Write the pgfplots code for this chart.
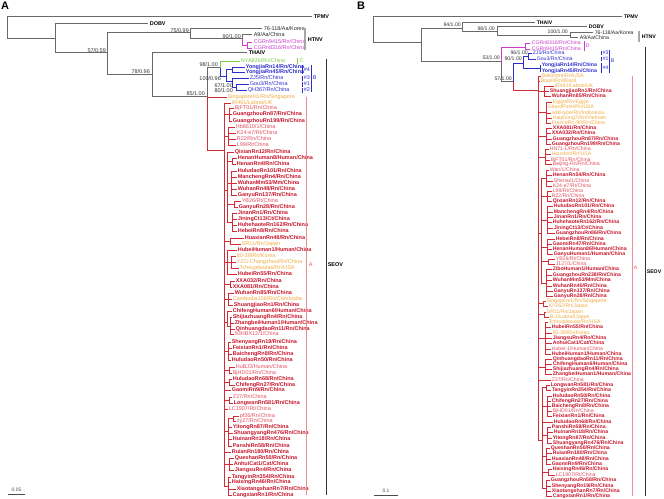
\documentclass[border=0pt]{standalone}
\usepackage{pgfplots}
\pgfplotsset{compat=1.18}
\usepackage{fontspec}
\setmainfont{Liberation Sans}

\definecolor{treeg}{RGB}{105,105,105}
\definecolor{rd}{RGB}{200,20,40}
\definecolor{rl}{RGB}{228,80,95}
\definecolor{redline}{RGB}{210,45,55}
\definecolor{orn}{RGB}{242,170,65}
\definecolor{mgn}{RGB}{205,60,205}
\definecolor{blu}{RGB}{45,45,205}
\definecolor{grn}{RGB}{125,205,70}
\definecolor{pnk}{RGB}{238,140,150}

\newcommand\fs{\fontsize{5.5}{6}\selectfont}
\tikzset{
  nm/.style={anchor=west,inner sep=0pt,outer sep=0pt,xshift=0.8bp,text=rl,font=\fs},
  bd/.style={nm,text=rd,font=\fs\bfseries},
  og/.style={nm,text=orn},
  kk/.style={nm,text=black!85},
  kb/.style={nm,text=black,font=\fs\bfseries},
  mg/.style={nm,text=mgn},
  bn/.style={nm,text=blu},
  bb/.style={nm,text=blu,font=\fs\bfseries},
  gn/.style={nm,text=grn},
  bs/.style={anchor=east,inner sep=0pt,text=black!80,font=\fs},
}
\pgfplotsset{
  tg/.style={draw=treeg,line width=1bp},
  rt/.style={draw=redline,line width=0.6bp},
  mgl/.style={draw=mgn,line width=0.8bp},
  bll/.style={draw=blu,line width=0.8bp},
  grl/.style={draw=grn,line width=0.8bp},
  pkl/.style={draw=pnk,line width=0.7bp},
  kl/.style={draw=black!80,line width=0.6bp},
  hl/.style={draw=gray!70,line width=1.6bp},
  panel/.style={width=332bp,height=499bp,scale only axis,anchor=south west,
    ymin=0,ymax=499,y dir=reverse,hide axis,clip=false,enlargelimits=false},
}

% elbow branch: parent (x,y) -> child (x,y)
\newcommand\E[5][tg]{\addplot[#1] coordinates {(#2,#3) (#2,#5) (#4,#5)};}
% red leaf branch with its label
\newcommand\lf[6][bd]{\addplot[rt] coordinates {(#2,#3) (#2,#5) (#4,#5)};
  \node[#1] at (axis cs:#4,#5) {#6};}
\newcommand\N[4][kk]{\node[#1] at (axis cs:#2,#3) {#4};}
\newcommand\V[4][kl]{\addplot[#1] coordinates {(#2,#3) (#2,#4)};}

\begin{document}
\begin{tikzpicture}

% ---------------- panel A ----------------
\begin{axis}[panel, at={(0,0)}, xmin=0, xmax=332]
\node[anchor=west,inner sep=0pt,font=\fontsize{11}{12}\selectfont\bfseries] at (axis cs:1,6) {A};

\E{7}{39}{312}{17}
\E{7}{39}{55}{39}
\E{55}{39}{148}{24}
\E{55}{39}{107}{53}
\E{107}{53}{190}{33}
\E{107}{53}{152}{75}
\E{190}{33}{262}{29}
\E{190}{33}{242}{39}
\E{242}{39}{252}{35}
\E[mgl]{242}{39}{247}{45}
\E[mgl]{247}{45}{252}{42}
\E[mgl]{247}{45}{252}{48}
\E{152}{75}{247}{53}
\E{152}{75}{207}{97}
\E{207}{97}{220}{68}
\E[grl]{220}{68}{240}{61}
\E[bll]{220}{68}{226}{76}
\E[bll]{226}{76}{232}{69}
\E[bll]{232}{69}{245}{67}
\E[bll]{232}{69}{245}{72}
\E[bll]{226}{76}{232}{81}
\E[bll]{232}{81}{249}{78}
\E[bll]{232}{81}{236}{87}
\E[bll]{236}{87}{249}{84}
\E[bll]{236}{87}{247}{90}

\N[kb]{313}{17}{TPMV}
\N[kb]{149}{24}{DOBV}
\N{263}{29}{76-118/Aa/Korea}
\N{253}{35}{A9/Aa/China}
\N[mg]{253}{42}{CGRn9415/Rn/China}
\N[mg]{253}{48}{CGRn8316/Rn/China}
\N[kb]{248}{53}{THAIV}
\N[gn]{240}{61}{NYA836/Rn/China}
\N[bb]{245}{67}{YongjiaRn14/Rn/China}
\N[bb]{245}{72}{YongjiaRn45/Rn/China}
\N[bn]{249}{78}{ZJ5/Rn/China}
\N[bn]{249}{84}{Gou3/Rn/China}
\N[bn]{247}{90}{QH367/Rn/China}

\N[bs]{189}{31}{75/0.99}
\N[bs]{241}{37}{90/1.00}
\N[bs]{106}{51}{57/0.59}
\N[bs]{150}{72}{78/0.96}
\N[bs]{205}{94}{85/1.00}
\N[bs]{218}{65}{98/1.00}
\N[bs]{221}{79}{100/0.96}
\N[bs]{233}{86}{67/1.00}
\N[bs]{233}{91}{80/1.00}

% SEOV, panel A
\E[rt]{207}{97}{224}{150}
\lf[og]{207}{97}{227}{97}{SingaporeH1/Rn/Singapore}
\lf[og]{224}{150}{231}{103}{IR461/Labrat/UK}
\E[rt]{224}{150}{229}{114}
\lf[nm]{229}{114}{234}{108}{BjFT01/Rn/China}
\lf{229}{114}{232}{114}{GuangzhouRn87/Rn/China}
\lf{229}{114}{232}{121}{GuangzhouRn199/Rn/China}
\E[rt]{224}{150}{228}{136}
\lf[nm]{228}{136}{235}{127}{Hb8610/1/China}
\lf[nm]{228}{136}{236}{133}{K24-e7/Rt/China}
\lf[nm]{228}{136}{236}{139}{R22/Rn/China}
\lf[nm]{228}{136}{236}{145}{L99/Rt/China}
\E[rt]{224}{150}{227}{190}
\lf{227}{190}{234}{152}{QixianRn12/Rn/China}
\E[rt]{227}{190}{232}{161}
\lf{232}{161}{237}{158}{HenanHuman8/Human/China}
\lf{232}{161}{236}{164}{HenanRn4/Rn/China}
\E[rt]{227}{190}{231}{183}
\lf{231}{183}{237}{171}{HuludaoRn101/Rn/China}
\lf{231}{183}{237}{177}{ManchengRn4/Rn/China}
\lf{231}{183}{237}{183}{WuhanMm53/Mm/China}
\lf{231}{183}{237}{189}{WuhanRn48/Rn/China}
\lf{231}{183}{237}{195}{GanyuRn137/Rn/China}
\E[rt]{227}{190}{234}{204}
\lf[nm]{234}{204}{241}{201}{YB26/Rt/China}
\lf{234}{204}{238}{207}{GanyuRn28/Rn/China}
\E[rt]{227}{190}{232}{222}
\lf{232}{222}{237}{213}{JinanRn1/Rn/China}
\lf{232}{222}{237}{219}{JiningCt13/Ct/China}
\lf{232}{222}{237}{225}{HuhehaoteRn162/Rn/China}
\lf{232}{222}{237}{231}{HebeiRn8/Rn/China}
\E[rt]{224}{150}{230}{241}
\lf{230}{241}{244}{238}{HuaxianRn48/Rn/China}
\lf[og]{230}{241}{241}{244}{SR11/Rn/Japan}
\E[rt]{224}{150}{227}{262}
\lf{227}{262}{237}{250}{HubeiHuman1/Human/China}
\E[rt]{227}{262}{231}{262}
\lf[og]{231}{262}{236}{256}{80-39/Rn/Korea}
\lf[og]{231}{262}{236}{262}{YZG-Changzhou/Rn/China}
\lf[og]{231}{262}{239}{268}{Tchoupitoulas/Rn/USA}
\lf{227}{262}{237}{274}{HubeiRn55/Rn/China}
\E[rt]{224}{150}{230}{284}
\lf{230}{284}{235}{281}{XXA032/Rn/China}
\lf{230}{284}{232}{287}{XXA081/Rn/China}
\E[rt]{224}{150}{228}{299}
\lf{228}{299}{234}{293}{WuhanRn85/Rn/China}
\lf[og]{228}{299}{232}{299}{Cambodia156/Rn/Cambodia}
\lf{228}{299}{233}{305}{ShuangjiaoRn1/Rn/China}
\E[rt]{224}{150}{227}{322}
\lf{227}{322}{232}{311}{ChifengHuman6/Human/China}
\E[rt]{227}{322}{230}{326}
\lf{230}{326}{232}{317}{ShijiazhuangRn4/Rn/China}
\lf{230}{326}{234}{323}{ZhangbeiHuman1/Human/China}
\lf{230}{326}{235}{329}{QinhuangdaoRn11/Rn/China}
\lf[nm]{230}{326}{234}{334}{93HBX12/1/China}
\E[rt]{224}{150}{228}{351}
\lf{228}{351}{231}{342}{ShenyangRn19/Rn/China}
\lf{228}{351}{232}{348}{FeixianRn1/Rn/China}
\lf{228}{351}{232}{354}{BaichengRn8/Rn/China}
\lf{228}{351}{231}{360}{HuludaoRn50/Rn/China}
\E[rt]{224}{150}{229}{370}
\lf[nm]{229}{370}{235}{367}{HuBJ3/Human/China}
\lf[nm]{229}{370}{232}{373}{BjHD01/Rn/China}
\E[rt]{224}{150}{229}{382}
\lf{229}{382}{232}{379}{HuludaoRn68/Rn/China}
\lf{229}{382}{235}{385}{ChifengRn27/Rn/China}
\lf{224}{150}{231}{390}{GaomiRn9/Rn/China}
\E[rt]{224}{150}{229}{400}
\lf[nm]{229}{400}{232}{397}{Z37/Rn/China}
\lf{229}{400}{233}{403}{LongwanRn581/Rn/China}
\lf[nm]{224}{150}{228}{409}{LC1907/Rt/China}
\E[rt]{224}{150}{228}{431}
\E[rt]{228}{431}{233}{418}
\lf[nm]{233}{418}{239}{416}{pf26/Rn/China}
\lf[nm]{233}{418}{236}{421}{zy27/Rn/China}
\lf{228}{431}{232}{427}{YitongRn87/Rn/China}
\lf{228}{431}{233}{433}{ShuangyangRn476/Rn/China}
\lf{228}{431}{232}{439}{HuinanRn18/Rn/China}
\lf{228}{431}{232}{446}{PanshiRn58/Rn/China}
\lf{224}{150}{231}{452}{RuianRn180/Rn/China}
\E[rt]{224}{150}{229}{464}
\lf{229}{464}{234}{458}{QueshanRn50/Rn/China}
\lf{229}{464}{233}{464}{AnhuiCat1/Cat/China}
\lf{229}{464}{234}{470}{JiangsuRn4/Rn/China}
\E[rt]{224}{150}{228}{486}
\lf{228}{486}{231}{477}{TangyinRn354/Rn/China}
\lf{228}{486}{231}{482}{HaixingRn46/Rn/China}
\lf{228}{486}{236}{489}{XiaotangshanRn7/Rn/China}
\lf{228}{486}{232}{495}{CangxianRn1/Rn/China}

% clade bars, panel A
\V[hl]{305}{28}{50}
\N[kb]{307}{40}{HTNV}
\V[grl]{297}{58}{64}
\N[gn]{299}{61}{C}
\V[bll]{302}{65}{74}
\V[bll]{302}{76}{81}
\V[bll]{302}{82}{87}
\V[bll]{302}{88}{93}
\N[bn]{303}{70}{\#4}
\N[bn]{303}{78}{\#3}
\N[bn]{303}{84}{\#1}
\N[bn]{303}{90}{\#2}
\V[bll]{311}{65}{92}
\N[bn]{312}{78}{B}
\V[pkl]{306}{97}{495}
\N[nm]{308}{265}{A}
\V[kl]{326}{59}{495}
\N[kb]{327}{265}{SEOV}

\addplot[draw=black!70,line width=0.8bp] coordinates {(8,494) (25,494)};
\node[inner sep=0pt,font=\fontsize{5}{6}\selectfont,text=black!70] at (axis cs:16.5,490) {0.05};
\end{axis}

% ---------------- panel B ----------------
\begingroup
\renewcommand\fs{\fontsize{5.2}{6}\selectfont}
\begin{axis}[panel, at={(332bp,0)}, xmin=332, xmax=664]
\node[anchor=west,inner sep=0pt,font=\fontsize{11}{12}\selectfont\bfseries] at (axis cs:357,6) {B};

\E{373}{43}{622}{17}
\E{373}{43}{421}{43}
\E{421}{43}{462}{29}
\E{421}{43}{501}{62}
\E{462}{29}{535}{23}
\E{462}{29}{497}{32}
\E{497}{32}{587}{27}
\E{497}{32}{570}{36}
\E{570}{36}{593}{33}
\E{570}{36}{578}{38}
\E[mgl]{501}{62}{525}{47}
\E[mgl]{525}{47}{530}{43}
\E[mgl]{525}{47}{530}{49}
\E{501}{62}{513}{82}
\E[bll]{513}{82}{523}{63}
\E[bll]{523}{63}{528}{56}
\E[bll]{528}{56}{532}{53}
\E[bll]{528}{56}{536}{59}
\E[bll]{523}{63}{540}{68}
\E[bll]{540}{68}{541}{65}
\E[bll]{540}{68}{541}{71}

\N[kb]{623}{17}{TPMV}
\N[kb]{536}{23}{THAIV}
\N[kb]{588}{27}{DOBV}
\N{594}{33}{76-118/Aa/Korea}
\N{579}{38}{A9/Aa/China}
\N[mg]{531}{43}{CGRn8316/Rn/China}
\N[mg]{531}{49}{CGRn9415/Rn/China}
\N[bn]{532}{53}{ZJ5/Rn/China}
\N[bn]{536}{59}{Gou3/Rn/China}
\N[bb]{541}{65}{YongjiaRn14/Rn/China}
\N[bb]{541}{71}{YongjiaRn45/Rn/China}

\N[bs]{461}{25}{94/1.00}
\N[bs]{495}{29}{98/1.00}
\N[bs]{568}{32}{100/1.00}
\N[bs]{500}{58}{53/1.00}
\N[bs]{512}{79}{57/1.00}
\N[bs]{522}{59}{90/1.00}
\N[bs]{528}{53}{96/1.00}

% SEOV, panel B
\E[rt]{513}{82}{538}{90}
\lf[og]{538}{90}{541}{76}{Baltimore/Rn/USA}
\lf[og]{538}{90}{540}{81}{Brazil/Rn/Brazil}
\E[rt]{538}{90}{544}{91}
\lf[og]{544}{91}{554}{86}{IR461/Labrat/UK}
\lf{544}{91}{549}{91}{ShuangjiaoRn1/Rn/China}
\lf{544}{91}{551}{96}{WuhanRn85/Rn/China}
\E[rt]{538}{90}{546}{112}
\lf[og]{546}{112}{552}{102}{Egypt/Rn/Egypt}
\lf[og]{546}{112}{547}{107}{GirardPoint/Rn/USA}
\lf[og]{546}{112}{551}{113}{wild-type/Rn/Indonesia}
\lf[og]{546}{112}{552}{118}{Haiphong7/Rn/Vietnam}
\lf[og]{546}{112}{551}{123}{FranceRn-90/Rn/China}
\E[rt]{538}{90}{546}{136}
\lf{546}{136}{552}{128}{XXA081/Rn/China}
\lf{546}{136}{551}{133}{XXA032/Rn/China}
\lf{546}{136}{552}{139}{GuangzhouRn87/Rn/China}
\lf{546}{136}{551}{144}{GuangzhouRn199/Rn/China}
\E[rt]{538}{90}{545}{157}
\lf[nm]{545}{157}{549}{149}{HN71-L/Rn/China}
\lf[og]{545}{157}{551}{154}{Houston/Rn/USA}
\lf[nm]{545}{157}{550}{160}{BjFT01/Rn/China}
\lf[nm]{545}{157}{552}{164}{Beijing-Rn/Rn/China}
\E[rt]{538}{90}{541}{233}
\E[rt]{541}{233}{546}{178}
\lf[nm]{546}{178}{549}{170}{Wan/1/China}
\lf{546}{178}{552}{175}{HenanRn54/Rn/China}
\lf[nm]{546}{178}{553}{181}{Shenai/1/China}
\lf[nm]{546}{178}{552}{186}{K24-e7/Rt/China}
\E[rt]{541}{233}{547}{196}
\lf[nm]{547}{196}{552}{191}{L99/Rt/China}
\lf[nm]{547}{196}{551}{196}{R22/Rn/China}
\lf{547}{196}{552}{201}{QixianRn12/Rn/China}
\E[rt]{541}{233}{547}{220}
\lf{547}{220}{553}{206}{HuludaoRn101/Rn/China}
\lf{547}{220}{553}{212}{ManchengRn4/Rn/China}
\lf{547}{220}{553}{217}{JinanRn1/Rn/China}
\lf{547}{220}{552}{222}{HuhehaoteRn162/Rn/China}
\lf{547}{220}{553}{228}{JiningCt13/Ct/China}
\lf{547}{220}{555}{233}{GuangzhouRn86/Rn/China}
\E[rt]{541}{233}{547}{247}
\lf{547}{247}{555}{239}{HebeiRn8/Rn/China}
\lf{547}{247}{552}{244}{GaomiRn47/Rn/China}
\lf{547}{247}{552}{249}{HenanHuman86/Human/China}
\lf{547}{247}{553}{254}{GanyuHuman1/Human/China}
\E[rt]{541}{233}{548}{261}
\lf[nm]{548}{261}{555}{259}{YB26/Rt/China}
\lf[nm]{548}{261}{555}{264}{J127/1/China}
\E[rt]{541}{233}{546}{283}
\lf{546}{283}{552}{269}{ZiboHuman1/Human/China}
\lf{546}{283}{552}{275}{GuangzhouRn238/Rn/China}
\lf{546}{283}{552}{280}{WuhanMm53/Mm/China}
\lf{546}{283}{552}{286}{WuhanRn40/Rn/China}
\lf{546}{283}{553}{291}{GanyuRn137/Rn/China}
\lf{546}{283}{553}{296}{GanyuRn28/Rn/China}
\E[rt]{538}{90}{543}{303}
\lf[og]{543}{303}{546}{301}{Singapore1/Rn/Singapore}
\lf[og]{543}{303}{548}{306}{KI-262/Rn/Japan}
\E[rt]{538}{90}{544}{314}
\lf[og]{544}{314}{546}{312}{SR11/Rn/Japan}
\lf[og]{544}{314}{549}{317}{B-1/Labrat/Japan}
\E[rt]{538}{90}{545}{338}
\lf[og]{545}{338}{548}{322}{Tchoupitoulas/Rn/USA}
\lf{545}{338}{551}{327}{HubeiRn55/Rn/China}
\lf[og]{545}{338}{552}{333}{80-39/Rn/Korea}
\lf{545}{338}{552}{338}{JiangsuRn4/Rn/China}
\lf{545}{338}{552}{343}{AnhuiCat1/Cat/China}
\lf[nm]{545}{338}{551}{349}{Hubei-1/Human/China}
\lf{545}{338}{551}{354}{HubeiHuman1/Human/China}
\E[rt]{538}{90}{545}{367}
\lf{545}{367}{552}{359}{QinhuangdaoRn11/Rn/China}
\lf{545}{367}{552}{364}{ChifengHuman6/Human/China}
\lf{545}{367}{552}{369}{ShijiazhuangRn4/Rn/China}
\lf{545}{367}{552}{374}{ZhangbeiHuman1/Human/China}
\lf[nm]{538}{90}{551}{380}{Z37/Rn/China}
\E[rt]{538}{90}{542}{440}
\E[rt]{542}{440}{546}{387}
\lf{546}{387}{550}{385}{LongwanRn581/Rn/China}
\lf{546}{387}{551}{390}{TangyinRn354/Rn/China}
\E[rt]{542}{440}{547}{406}
\lf{547}{406}{552}{396}{HuludaoRn50/Rn/China}
\lf{547}{406}{551}{401}{ChifengRn27/Rn/China}
\lf{547}{406}{551}{406}{BaichengRn8/Rn/China}
\lf[nm]{547}{406}{552}{411}{BjHD01/Rn/China}
\lf{547}{406}{552}{416}{FeixianRn1/Rn/China}
\lf{542}{440}{553}{422}{HuludaoRn68/Rn/China}
\E[rt]{542}{440}{547}{435}
\lf{547}{435}{551}{427}{PanshiRn58/Rn/China}
\lf{547}{435}{553}{432}{HuinanRn18/Rn/China}
\lf{547}{435}{552}{438}{YitongRn87/Rn/China}
\lf{547}{435}{552}{443}{ShuangyangRn476/Rn/China}
\E[rt]{542}{440}{546}{456}
\lf{546}{456}{550}{448}{QueshanRn50/Rn/China}
\lf{546}{456}{552}{453}{RuianRn180/Rn/China}
\lf{546}{456}{551}{459}{HuaxianRn48/Rn/China}
\lf{546}{456}{551}{464}{GaomiRn9/Rn/China}
\E[rt]{542}{440}{548}{472}
\lf{548}{472}{552}{469}{HaixingRn46/Rn/China}
\lf[nm]{548}{472}{555}{475}{LC1907/Rt/China}
\E[rt]{542}{440}{546}{488}
\lf{546}{488}{550}{480}{GuangzhouRn58/Rn/China}
\lf{546}{488}{551}{486}{ShenyangRn19/Rn/China}
\lf{546}{488}{551}{491}{XiaotangshanRn7/Rn/China}
\lf{546}{488}{552}{496}{CangxianRn1/Rn/China}

% clade bars, panel B
\V[mgl]{584}{41}{51}
\N[mg]{585}{46}{D}
\V[bll]{601}{51}{55}
\V[bll]{601}{57}{61}
\V[bll]{601}{63}{73}
\N[bn]{602}{53}{\#3}
\N[bn]{602}{59}{\#1}
\N[bn]{602}{68}{\#4}
\V[bll]{609}{50}{73}
\N[bn]{610}{61}{B}
\V[hl]{639}{31}{42}
\N[kb]{641}{37}{HTNV}
\V[pkl]{632}{76}{496}
\N[nm]{633}{268}{A}
\V[kl]{645}{47}{496}
\N[kb]{646}{272}{SEOV}

\addplot[draw=black!70,line width=0.8bp] coordinates {(374,495) (398,495)};
\node[inner sep=0pt,font=\fontsize{5}{6}\selectfont,text=black!70] at (axis cs:386,490.5) {0.1};
\end{axis}
\endgroup

\path (0,0) rectangle (664bp,499bp);
\end{tikzpicture}
\end{document}
